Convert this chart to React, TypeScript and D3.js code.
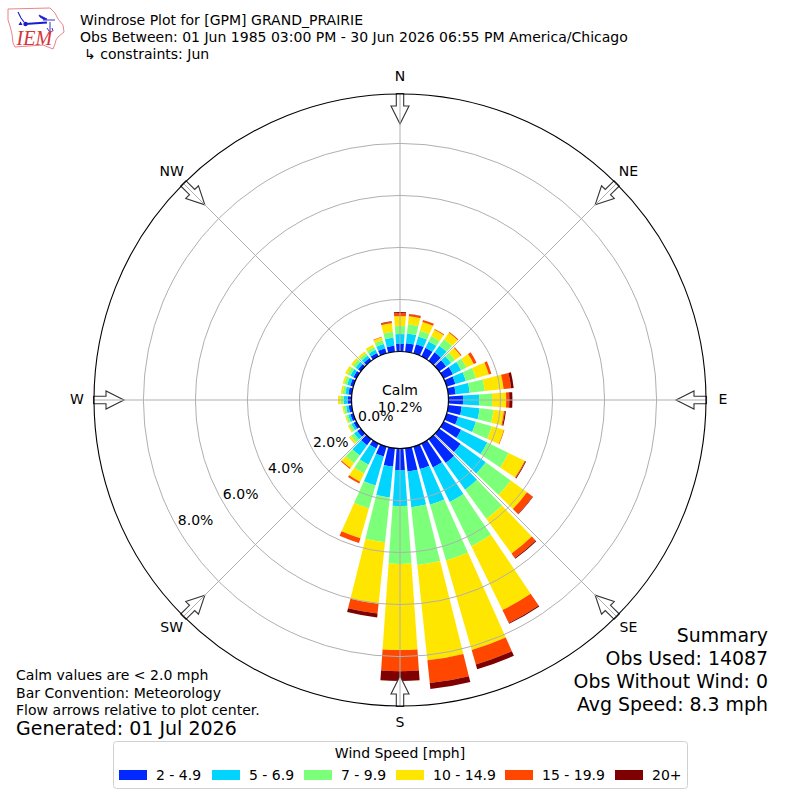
import React from 'react';
import * as d3 from 'd3';

const directions = [0, 10, 20, 30, 40, 50, 60, 70, 80, 90, 100, 110, 120, 130, 140, 150, 160, 170, 180, 190, 200, 210, 220, 230, 240, 250, 260, 270, 280, 290, 300, 310, 320, 330, 340, 350];
const speed2to5 = [.29, .33, .37, .37, .40, .33, .40, .35, .29, .56, .52, .46, .75, 1.02, 1.13, 1.02, .90, .90, .83, .71, .40, .21, .29, .17, .12, .12, .12, .15, .13, .13, .13, .13, .13, .15, .21, .23];
const speed5to7 = [.38, .38, .31, .27, .31, .23, .35, .42, .54, .62, .69, .71, 1.12, 1.19, 1.27, 1.48, 1.42, 1.38, 1.38, 1.19, 1.15, .69, .48, .15, .10, .09, .10, .15, .12, .12, .13, .12, .12, .13, .17, .31];
const speed7to10 = [.31, .35, .23, .23, .31, .19, .23, .40, .58, .50, .54, .64, .91, 1.19, 1.38, 1.89, 2.23, 2.23, 2.23, 1.73, .92, .38, .37, .15, .10, .08, .09, .12, .10, .11, .12, .12, .11, .12, .15, .23];
const speed10to15 = [.38, .31, .35, .27, .31, .27, .31, .52, .73, .54, .40, .48, .69, .77, 1.65, 2.73, 3.58, 3.69, 3.31, 2.38, 1.19, .35, .23, .08, .05, .04, .05, .10, .07, .07, .10, .09, .08, .10, .12, .33];
const speed15to20 = [.12, .08, .08, .03, .04, .04, .12, .10, .29, .12, .04, .02, .03, .27, .21, .55, .58, .88, .81, .38, .19, .08, .04, .01, 0, 0, 0, 0, 0, 0, 0, 0, 0, 0, .02, .06];
const speed20up = [.04, .01, 0, 0, 0, 0, 0, 0, .10, .12, .04, 0, .03, .02, .04, .04, .19, .23, .38, .15, 0, 0, 0, 0, 0, 0, 0, 0, 0, 0, 0, 0, 0, 0, 0, .02];

const speedSeries = [speed2to5, speed5to7, speed7to10, speed10to15, speed15to20, speed20up];
const speedLabels = ['2 - 4.9', '5 - 6.9', '7 - 9.9', '10 - 14.9', '15 - 19.9', '20+'];
const speedColors = ['#0028ff', '#00d4ff', '#7cff79', '#ffe600', '#ff4700', '#7f0000'];
const legendPatchX = [119, 212, 304, 396, 505, 615];

const ringTicks = [0, 2, 4, 6, 8];
const compassAngles = [0, 45, 90, 135, 180, 225, 270, 315];
const compassLabels = ['N', 'NE', 'E', 'SE', 'S', 'SW', 'W', 'NW'];

const summaryLines = ['Summary', 'Obs Used: 14087', 'Obs Without Wind: 0', 'Avg Speed: 8.3 mph'];
const noteLines = ['Calm values are < 2.0 mph', 'Bar Convention: Meteorology', 'Flow arrows relative to plot center.'];

const cx = 400;
const cy = 400;
const outerR = 306;
const font = '"DejaVu Sans", sans-serif';

const r = d3.scaleLinear().domain([0, 9.9]).range([48.5, outerR]);
const theta = d3.scaleLinear().domain([0, 360]).range([0, 2 * Math.PI]);

const polar = (deg: number, radius: number): [number, number] => {
  const a = theta(deg);
  return [Math.sin(a) * radius, -Math.cos(a) * radius];
};

const barArc = d3.arc<{ a0: number; a1: number; r0: number; r1: number }>()
  .startAngle(d => d.a0)
  .endAngle(d => d.a1)
  .innerRadius(d => d.r0)
  .outerRadius(d => d.r1);

function Logo() {
  const red = '#d8343c';
  const blue = '#1a1ad0';
  const outline = 'M8,9 L50,8 L55,13 L58,19 L63,25 L64,32 L58,37 L56,40 L55,44 L53,49 L43,45 L15,47 L13,43 L12,34 L10,26 L8,20 Z';
  return (
    <g>
      <path d={outline} fill="white" stroke={red} strokeWidth={0.8} opacity={0.75} />
      <path d="M25,24 L47,22.5" stroke={blue} strokeWidth={1.8} fill="none" />
      <circle cx={25.5} cy={24} r={2.2} fill={blue} />
      <path d="M18,12 L21,18 L24,22" stroke={blue} strokeWidth={1.1} fill="none" />
      <path d="M18.5,25 L20.5,21.5 L22.5,25 Z" fill={blue} />
      <path d="M39,15 L47,19 L44,19.5 L40,17 Z" fill={blue} stroke={blue} strokeWidth={0.8} />
      <path d="M43,20 L55,20 M50,22 L50,32 M47,28 L49,31 M52,28 L53,31" stroke={blue} strokeWidth={0.9} fill="none" />
      <text x={16.5} y={45} fontFamily='"Liberation Serif", serif' fontStyle="italic" fontSize={20} fill={red}>IEM</text>
    </g>
  );
}

export default function App() {
  // cumulative stack per direction, speeds pile outward from the calm circle
  const stacked = d3.stack<number>()
    .keys(speedLabels.map((_, i) => String(i)))
    .value((dirIdx, key) => speedSeries[+key][dirIdx])(directions.map((_, i) => i));

  const halfWidth = 4;

  return (
    <svg width={800} height={800} style={{ position: 'absolute', left: 0, top: 0, background: 'white' }} fontFamily={font}>
      <Logo />
      <text x={80} y={25} fontSize={14.03}>Windrose Plot for [GPM] GRAND_PRAIRIE</text>
      <text x={80} y={42} fontSize={14.03}>Obs Between: 01 Jun 1985 03:00 PM - 30 Jun 2026 06:55 PM America/Chicago</text>
      <text x={84} y={59} fontSize={14.03}>↳ constraints: Jun</text>

      <g transform={`translate(${cx},${cy})`}>
        {/* bars */}
        {stacked.map((layer, i) => (
          <g key={speedLabels[i]} fill={speedColors[i]}>
            {layer.map((d, j) => d[1] > d[0] && (
              <path
                key={directions[j]}
                d={barArc({
                  a0: theta(directions[j] - halfWidth),
                  a1: theta(directions[j] + halfWidth),
                  r0: r(d[0]),
                  r1: r(d[1]),
                }) || ''}
              />
            ))}
          </g>
        ))}

        {/* flow arrows, grid runs over them */}
        {compassAngles.map(a => {
          const pts: [number, number][] = [
            [0, outerR - 30],
            [9, outerR - 12],
            [3.7, outerR - 12],
            [3.7, outerR + 0.5],
            [-3.7, outerR + 0.5],
            [-3.7, outerR - 12],
            [-9, outerR - 12],
          ];
          return (
            <path
              key={a}
              transform={`rotate(${a})`}
              d={`M${pts.map(p => `${p[0]},${-p[1]}`).join('L')}Z`}
              fill="white"
              stroke="#333"
              strokeWidth={1.1}
            />
          );
        })}

        {/* grid */}
        {ringTicks.slice(1).map(t => (
          <circle key={t} r={r(t)} fill="none" stroke="#b0b0b0" strokeWidth={1} />
        ))}
        {compassAngles.map(a => {
          const [x1, y1] = polar(a, r(0));
          const [x2, y2] = polar(a, outerR);
          return <line key={a} x1={x1} y1={y1} x2={x2} y2={y2} stroke="#b0b0b0" strokeWidth={1} />;
        })}

        <circle r={r(0)} fill="white" stroke="black" strokeWidth={1.2} />
        <circle r={outerR} fill="none" stroke="black" strokeWidth={1.1} />

        {/* radial tick labels sit along 240 degrees */}
        {ringTicks.map(t => {
          const [x, y] = polar(240, r(t));
          return <text key={t} x={x} y={y - 3} fontSize={14}>{t.toFixed(1)}%</text>;
        })}

        {compassAngles.map((a, i) => {
          const [x, y] = polar(a, 323);
          return (
            <text key={a} x={x} y={y + 4} textAnchor="middle" fontSize={14}>{compassLabels[i]}</text>
          );
        })}

        <text x={0} y={-5} textAnchor="middle" fontSize={14}>Calm</text>
        <text x={0} y={12} textAnchor="middle" fontSize={14}>10.2%</text>
      </g>

      {summaryLines.map((s, i) => (
        <text key={s} x={768} y={642 + i * 23} textAnchor="end" fontSize={18.9}>{s}</text>
      ))}
      {noteLines.map((s, i) => (
        <text key={s} x={16} y={680 + i * 17.5} fontSize={14.05}>{s}</text>
      ))}
      <text x={16} y={735} fontSize={19}>Generated: 01 Jul 2026</text>

      {/* legend */}
      <rect x={113.5} y={741.5} width={574} height={47} rx={3} fill="white" stroke="#d0d0d0" strokeWidth={1} />
      <text x={400} y={758} textAnchor="middle" fontSize={14}>Wind Speed [mph]</text>
      {speedLabels.map((s, i) => (
        <g key={s}>
          <rect x={legendPatchX[i]} y={770} width={28} height={10} fill={speedColors[i]} />
          <text x={legendPatchX[i] + 37} y={780} fontSize={14}>{s}</text>
        </g>
      ))}
    </svg>
  );
}
